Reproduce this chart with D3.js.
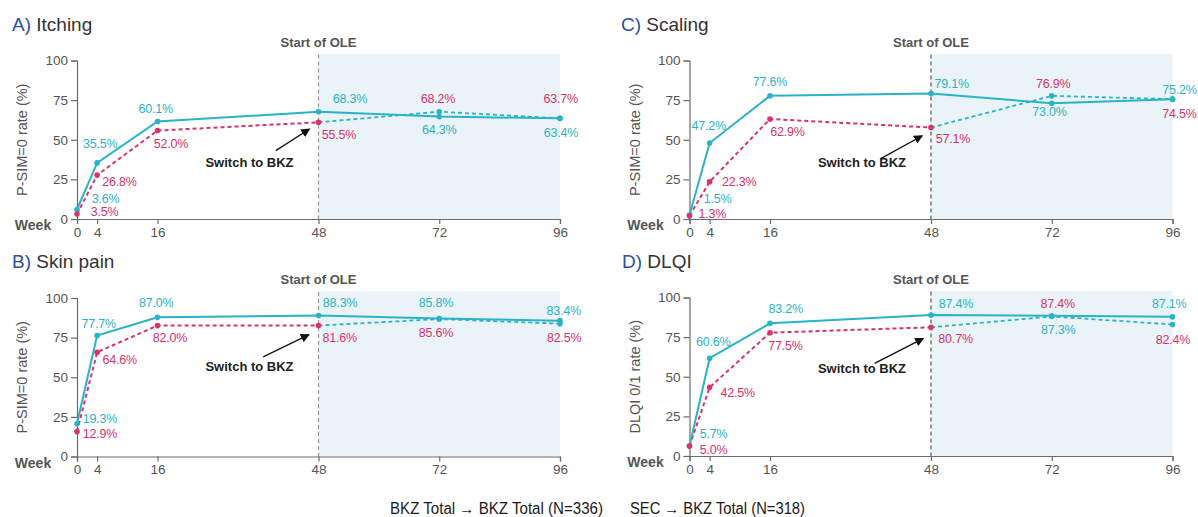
<!DOCTYPE html>
<html><head><meta charset="utf-8">
<script src="https://cdn.jsdelivr.net/npm/d3@7"></script>
<style>
body{margin:0;background:#fff;}
svg{display:block;font-family:"Liberation Sans",Arial,sans-serif;}
</style>
</head><body>
<svg id="chart" width="1198" height="517"></svg>
<script>
// ---------- data ----------
const weeks = [0, 4, 16, 48, 72, 96];
const yTicks = [0, 25, 50, 75, 100];
const panelLetters = ["A)", "B)", "C)", "D)"];
const panelNames = ["Itching", "Skin pain", "Scaling", "DLQI"];
const yTitles = ["P-SIM=0 rate (%)", "P-SIM=0 rate (%)", "P-SIM=0 rate (%)", "DLQI 0/1 rate (%)"];
const seriesNames = ["BKZ Total \u2192 BKZ Total (N=336)", "SEC \u2192 BKZ Total (N=318)"];
const startLabel = "Start of OLE";
const switchLabel = "Switch to BKZ";
const weekLabel = "Week";

// plotted positions
const bkzItching = [6, 35.4, 61.5, 67.7, 64.6, 63.5];
const secItching = [3.1, 27.7, 55.8, 61, 67.7, 63.5];
const bkzSkinPain = [20.7, 76.3, 87.8, 89, 87, 85.7];
const secSkinPain = [15.7, 65.8, 82.6, 82.6, 86.7, 83.8];
const bkzScaling = [2.5, 47.9, 77.7, 79.2, 73, 75.6];
const secScaling = [2, 23.5, 63.1, 57.7, 77.7, 75.6];
const bkzDlqi = [6.3, 61.7, 83.7, 88.9, 88.5, 87.8];
const secDlqi = [6.3, 43.3, 77.8, 81.2, 88, 83];

// printed value labels
const bkzItchingLabels = [3.6, 35.5, 60.1, 68.3, 64.3, 63.4];
const secItchingLabels = [3.5, 26.8, 52.0, 55.5, 68.2, 63.7];
const bkzSkinPainLabels = [19.3, 77.7, 87.0, 88.3, 85.8, 83.4];
const secSkinPainLabels = [12.9, 64.6, 82.0, 81.6, 85.6, 82.5];
const bkzScalingLabels = [1.5, 47.2, 77.6, 79.1, 73.0, 75.2];
const secScalingLabels = [1.3, 22.3, 62.9, 57.1, 76.9, 74.5];
const bkzDlqiLabels = [5.7, 60.6, 83.2, 87.4, 87.3, 87.1];
const secDlqiLabels = [5.0, 42.5, 77.5, 80.7, 87.4, 82.4];

const bkzSeries = [bkzItching, bkzSkinPain, bkzScaling, bkzDlqi];
const secSeries = [secItching, secSkinPain, secScaling, secDlqi];
const bkzLabels = [bkzItchingLabels, bkzSkinPainLabels, bkzScalingLabels, bkzDlqiLabels];
const secLabels = [secItchingLabels, secSkinPainLabels, secScalingLabels, secDlqiLabels];

// ---------- layout ----------
const W = 483, H = 158.5;
const layout = [
  {left: 77,    top: 60.5, titleX: 12,  titleY: 31,  sw: 106.5, tail: [-42.7, 90.1], tip: [-9, 68.5],  vcol: "#9a9a9a"},
  {left: 77,    top: 298,  titleX: 12,  titleY: 268, sw: 73,    tail: [-55.3, 58.8], tip: [-9.5, 36.6], vcol: "#9a9a9a"},
  {left: 689.5, top: 60.5, titleX: 621, titleY: 31,  sw: 106.5, tail: [-50.7, 98.4], tip: [-8.7, 75.2], vcol: "#555"},
  {left: 689.5, top: 297.5,titleX: 622, titleY: 268, sw: 75.5,  tail: [-56.4, 65.9], tip: [-7.6, 40.9], vcol: "#555"}
];
const bkzOff = [
  [[28.7,-11],[3,-19.6],[-1.7,-12.8],[31.5,-13.2],[0,13.3],[1,14.2]],
  [[23,-5.4],[1.7,-12],[-1.3,-14.3],[21.6,-12.4],[-3.2,-15.6],[3.8,-10]],
  [[28,-16],[-0.8,-17.7],[0,-14.7],[20.8,-9.7],[-2.3,8],[7,-9.5]],
  [[24,-12.6],[3.7,-16.7],[15.7,-14.3],[25,-11.6],[6.4,14.3],[-3.3,-13.4]]
];
const secOff = [
  [[27.5,-2.4],[22.3,6.7],[13.5,12.7],[20.5,12],[-1.2,-13.2],[0.7,-19.3]],
  [[23,2],[22.7,7.3],[12.5,11.6],[21.2,11.6],[-3.2,13.8],[4.2,14.2]],
  [[22.8,-2.5],[29.7,0],[17.4,12.9],[21.9,11],[1.5,-12],[7,14]],
  [[24,3.3],[28,5.6],[15.4,13.3],[24.6,11],[6,-13.1],[0.5,15.6]]
];

const CYAN = "#2ab3c6", MAG = "#d8336a", AXIS = "#6b6b6b", GREY = "#555", SHADE = "#eaf4f8";

const svg = d3.select("#chart");
svg.append("defs").append("marker")
  .attr("id", "ah").attr("viewBox", "0 0 10 10").attr("refX", 9).attr("refY", 5)
  .attr("markerWidth", 9).attr("markerHeight", 9).attr("markerUnits", "userSpaceOnUse")
  .attr("orient", "auto")
  .append("path").attr("d", "M0,0 L10,5 L0,10 z").attr("fill", "#111");

const x = d3.scaleLinear().domain([0, 96]).range([0, W]);
const y = d3.scaleLinear().domain([0, 100]).range([H, 0]);
const fmt = v => v.toFixed(1) + "%";

layout.forEach((L, p) => {
  // title
  const t = svg.append("text").attr("x", L.titleX).attr("y", L.titleY)
    .attr("font-size", 19).attr("fill", "#333");
  t.append("tspan").attr("fill", "#2d4f9e").text(panelLetters[p]);
  t.append("tspan").text(" " + panelNames[p]);

  const g = svg.append("g").attr("transform", `translate(${L.left},${L.top})`);

  // shaded OLE region
  g.append("rect").attr("x", x(48)).attr("y", -6.5)
    .attr("width", x(96) - x(48)).attr("height", H + 6.5).attr("fill", SHADE);

  // vertical dashed line
  g.append("line").attr("x1", x(48)).attr("x2", x(48)).attr("y1", -6).attr("y2", H)
    .attr("stroke", L.vcol).attr("stroke-width", 1.2).attr("stroke-dasharray", "4,3");

  g.append("text").attr("x", x(48)).attr("y", -14).attr("text-anchor", "middle")
    .attr("font-size", 13).attr("font-weight", "bold").attr("fill", GREY).text(startLabel);

  // axes
  const ya = g.append("g").call(d3.axisLeft(y).tickValues(yTicks).tickSize(6).tickPadding(3));
  const xa = g.append("g").attr("transform", `translate(0,${H})`)
    .call(d3.axisBottom(x).tickValues(weeks).tickSize(5).tickPadding(3));
  [ya, xa].forEach(a => {
    a.select(".domain").attr("stroke", AXIS).attr("stroke-width", 1.2);
    a.selectAll(".tick line").attr("stroke", AXIS).attr("stroke-width", 1.2);
    a.selectAll(".tick text").attr("fill", GREY).attr("font-size", 13.5)
      .attr("font-family", "Liberation Sans, Arial, sans-serif");
  });

  g.append("text").attr("x", -44).attr("y", H + 11).attr("text-anchor", "middle")
    .attr("font-size", 14).attr("font-weight", "bold").attr("fill", GREY).text(weekLabel);

  g.append("text").attr("transform", `translate(${-55},${H / 2}) rotate(-90)`)
    .attr("text-anchor", "middle").attr("dy", "0.35em")
    .attr("font-size", 14.5).attr("fill", GREY).text(yTitles[p]);

  // lines
  const bkz = weeks.map((w, i) => [w, bkzSeries[p][i]]);
  const sec = weeks.map((w, i) => [w, secSeries[p][i]]);
  const line = d3.line().x(d => x(d[0])).y(d => y(d[1]));

  g.append("path").attr("d", line(sec.slice(0, 4))).attr("fill", "none")
    .attr("stroke", MAG).attr("stroke-width", 2).attr("stroke-dasharray", "4,3");
  g.append("path").attr("d", line(sec.slice(3))).attr("fill", "none")
    .attr("stroke", CYAN).attr("stroke-width", 1.8).attr("stroke-dasharray", "4,3");
  g.append("path").attr("d", line(bkz)).attr("fill", "none")
    .attr("stroke", CYAN).attr("stroke-width", 2);

  // points
  g.selectAll(".pb").data(bkz).join("circle")
    .attr("cx", d => x(d[0])).attr("cy", d => y(d[1])).attr("r", 2.8).attr("fill", CYAN);
  g.selectAll(".ps").data(sec).join("circle")
    .attr("cx", d => x(d[0])).attr("cy", d => y(d[1])).attr("r", 2.8)
    .attr("fill", (d, i) => i <= 3 ? MAG : CYAN);

  // value labels
  const lblStyle = sel => sel.attr("text-anchor", "middle").attr("dy", "0.35em")
    .attr("font-size", 12.5).attr("letter-spacing", "-0.2");
  g.selectAll(".lb").data(bkz).join("text")
    .attr("x", (d, i) => x(d[0]) + bkzOff[p][i][0])
    .attr("y", (d, i) => y(d[1]) + bkzOff[p][i][1])
    .attr("fill", CYAN).call(lblStyle)
    .text((d, i) => fmt(bkzLabels[p][i]));
  g.selectAll(".ls").data(sec).join("text")
    .attr("x", (d, i) => x(d[0]) + secOff[p][i][0])
    .attr("y", (d, i) => y(d[1]) + secOff[p][i][1])
    .attr("fill", MAG).call(lblStyle)
    .text((d, i) => fmt(secLabels[p][i]));

  // switch annotation
  g.append("text").attr("x", x(48) - 69).attr("y", L.sw).attr("text-anchor", "middle")
    .attr("font-size", 13).attr("font-weight", "bold").attr("fill", "#222").text(switchLabel);
  g.append("line")
    .attr("x1", x(48) + L.tail[0]).attr("y1", L.tail[1])
    .attr("x2", x(48) + L.tip[0]).attr("y2", L.tip[1])
    .attr("stroke", "#111").attr("stroke-width", 1.3).attr("marker-end", "url(#ah)");
});

// legend text
svg.append("text").attr("x", 390).attr("y", 514).attr("font-size", 16).attr("fill", "#1a1a1a")
  .attr("textLength", 213).attr("lengthAdjust", "spacingAndGlyphs").text(seriesNames[0]);
svg.append("text").attr("x", 630).attr("y", 514).attr("font-size", 16).attr("fill", "#1a1a1a")
  .attr("textLength", 175).attr("lengthAdjust", "spacingAndGlyphs").text(seriesNames[1]);
</script>
</body></html>
